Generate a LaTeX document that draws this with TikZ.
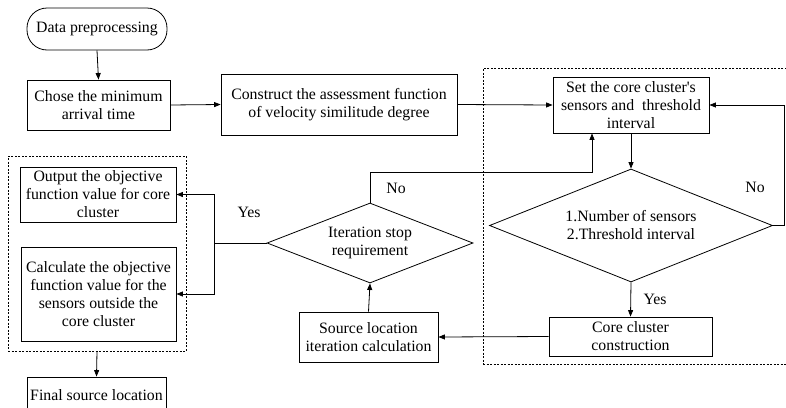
\documentclass[tikz,border=0pt]{standalone}
\usepackage{fontspec}
\setmainfont{Liberation Serif}
\usetikzlibrary{arrows.meta,shapes.geometric}
\begin{document}
\begin{tikzpicture}[x=1pt,y=-1pt,
  every node/.style={font=\fontsize{15.8}{18}\selectfont},
  box/.style={draw, line width=0.8pt, align=center, inner sep=0pt},
  dia/.style={draw, line width=0.8pt, diamond, inner sep=0pt},
  frame/.style={draw, line width=0.7pt, dash pattern=on 2pt off 1.5pt, inner sep=0pt},
  arr/.style={line width=0.8pt, -{Triangle[length=6.5pt,width=5pt]}},
  ln/.style={line width=0.8pt},
  lbl/.style={inner sep=0pt}]
\useasboundingbox (0,0) rectangle (786,407);
\clip (0,0) rectangle (786,407);
% frames
\node[frame, minimum width=178pt, minimum height=195pt] (lbox) at (97,253.5) {};
\node[frame, minimum width=317pt, minimum height=296pt] (rbox) at (641.5,216) {};
% nodes
\node[box, rounded corners=20pt, minimum width=140pt, minimum height=42pt] (dp) at (97,29) {Data preprocessing};
\node[box, minimum width=143pt, minimum height=50pt] (chose) at (98.5,105) {Chose the minimum\\arrival time};
\node[box, minimum width=236pt, minimum height=61pt] (cons) at (339,104.5) {Construct the assessment function\\of velocity similitude degree};
\node[box, minimum width=156pt, minimum height=56pt] (set) at (631,105) {Set the core cluster\textquotesingle s\\sensors and\ \ threshold\\interval};
\node[dia, minimum width=283pt, minimum height=113pt] (d2) at (631,225.5) {};
\node[align=center, inner sep=0pt] (d2t) at (d2.center) {1.Number of sensors\\2.Threshold interval};
\node[box, minimum width=163pt, minimum height=39pt] (core) at (630.5,336.5) {Core cluster\\construction};
\node[box, minimum width=139pt, minimum height=50pt] (src) at (368.5,337) {Source location\\iteration calculation};
\node[dia, minimum width=206pt, minimum height=80pt] (d1) at (370,243) {};
\node[align=center, inner sep=0pt] (d1t) at (d1.center) {Iteration stop\\requirement};
\node[box, minimum width=156pt, minimum height=55pt] (out) at (98,194.5) {Output the objective\\function value for core\\cluster};
\node[box, minimum width=155pt, minimum height=94pt] (calc) at (98.5,294) {Calculate the objective\\function value for the\\sensors outside the\\core cluster};
\node[box, minimum width=139pt, minimum height=36pt] (fin) at (96.5,395) {Final source location};
% labels
\node[lbl] (no1) at (396,188) {No};
\node[lbl] (yes1) at (249,212) {Yes};
\node[lbl] (no2) at (755,187) {No};
\node[lbl] (yes2) at (655,299) {Yes};
% coordinates
\coordinate (rr) at (784,105);
\coordinate (nn) at (592,172);
\coordinate (yy) at (214,243);
% connectors
\draw[arr] (dp.south) -- (chose.north);
\draw[arr] (chose.east) -- (cons.west);
\draw[arr] (cons.east) -- (set.west);
\draw[arr] (set.south) -- (d2.north);
\draw[arr] (d2.east) -| (rr) -- (set.east);
\draw[arr] (d2.south) -- (core.north);
\draw[arr] (core.west) -- (src.east);
\draw[arr] (src.north) -- (d1.south);
\draw[arr] (d1.north) |- (nn) -- (nn |- set.south);
\draw[ln] (d1.west) -- (yy);
\draw[arr] (yy) |- (out.east);
\draw[arr] (yy) |- (calc.east);
\draw[arr] (lbox.south) -- (fin.north);
\end{tikzpicture}
\end{document}
